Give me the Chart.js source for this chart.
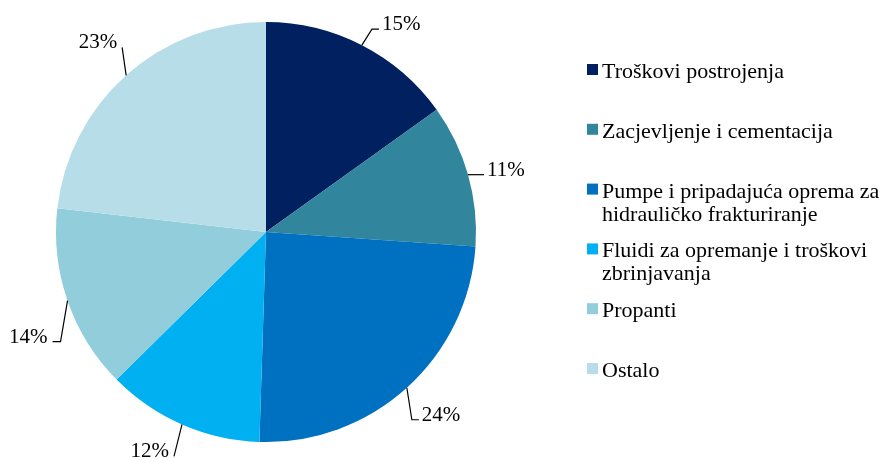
<!DOCTYPE html>
<html>
<head>
<meta charset="utf-8">
<script src="https://cdn.jsdelivr.net/npm/chart.js@4.4.1/dist/chart.umd.min.js"></script>
<style>
  html, body { margin: 0; padding: 0; background: #fff; }
  #wrap { width: 882px; height: 461px; }
</style>
</head>
<body>
<div id="wrap"><canvas id="pie" width="882" height="461"></canvas></div>
<script>
// kategorije (legenda, prelomljene u retke)
const categories = [
    'Troškovi postrojenja',
    'Zacjevljenje i cementacija',
    ['Pumpe i pripadajuća oprema za', 'hidrauličko frakturiranje'],
    ['Fluidi za opremanje i troškovi', 'zbrinjavanja'],
    'Propanti',
    'Ostalo'
];
// udjeli troškova (%)
const shares = [15.1, 11.0, 24.4, 12.1, 14.2, 23.2];
const colors = ['#002060', '#31859C', '#0070C0', '#00B0F0', '#92CDDC', '#B7DEE8'];

// pomaci oznaka: koljeno od ruba (dx, dy), duljina vodoravnog dijela
const labelLayout = [
    { dx: 10, dy: -16, h: 7 },
    { dx: 0, dy: 0, h: 16 },
    { dx: 5, dy: 32, h: 7 },
    { dx: -8, dy: 32, h: 0 },
    { dx: -7, dy: 41, h: -8 },
    { dx: -4, dy: -28, h: 0 }
];

const LABEL_FONT = '21px "Liberation Serif", "Times New Roman", serif';
const LEGEND_FONT = '22px "Liberation Serif", "Times New Roman", serif';

const outsideLabels = {
    id: 'outsideLabels',
    afterDatasetsDraw(chart) {
        const ctx = chart.ctx;
        const meta = chart.getDatasetMeta(0);
        const data = chart.data.datasets[0].data;
        const total = data.reduce((a, b) => a + b, 0);
        ctx.save();
        ctx.font = LABEL_FONT;
        ctx.fillStyle = '#000';
        ctx.strokeStyle = '#000';
        ctx.lineWidth = 1.2;
        meta.data.forEach((arc, i) => {
            const p = arc.getProps(['x', 'y', 'startAngle', 'endAngle', 'outerRadius'], true);
            const mid = (p.startAngle + p.endAngle) / 2;
            const ax = p.x + Math.cos(mid) * p.outerRadius;
            const ay = p.y + Math.sin(mid) * p.outerRadius;
            const lay = labelLayout[i];
            const ex = ax + lay.dx;
            const ey = ay + lay.dy;
            const right = Math.cos(mid) >= 0;
            const hx = ex + lay.h;
            ctx.beginPath();
            ctx.moveTo(ax, ay);
            ctx.lineTo(ex, ey);
            ctx.lineTo(hx, ey);
            ctx.stroke();
            const txt = Math.round(data[i] / total * 100) + '%';
            ctx.textBaseline = 'alphabetic';
            ctx.textAlign = right ? 'left' : 'right';
            ctx.fillText(txt, right ? hx + 3 : hx - 5, ey + 1);
        });
        ctx.restore();
    }
};

const sideLegend = {
    id: 'sideLegend',
    afterDraw(chart, args, opts) {
        const ctx = chart.ctx;
        const ds = chart.data.datasets[0];
        ctx.save();
        ctx.font = LEGEND_FONT;
        ctx.textAlign = 'left';
        ctx.textBaseline = 'alphabetic';
        chart.data.labels.forEach((label, i) => {
            const base = opts.y + i * opts.step;
            ctx.fillStyle = ds.backgroundColor[i];
            ctx.fillRect(opts.x, base - 14, opts.box, opts.box);
            ctx.fillStyle = '#000';
            const lines = Array.isArray(label) ? label : [label];
            lines.forEach((line, j) => {
                ctx.fillText(line, opts.x + opts.box + 4, base + j * opts.lineHeight);
            });
        });
        ctx.restore();
    }
};

new Chart(document.getElementById('pie'), {
    type: 'pie',
    data: {
        labels: categories,
        datasets: [{
            data: shares,
            backgroundColor: colors,
            borderWidth: 0
        }]
    },
    options: {
        responsive: false,
        animation: false,
        rotation: 0,
        layout: { padding: { left: 56, right: 406, top: 22, bottom: 19 } },
        plugins: {
            legend: { display: false },
            tooltip: { enabled: false },
            sideLegend: { x: 587, y: 78, step: 59.8, lineHeight: 23, box: 11 }
        }
    },
    plugins: [outsideLabels, sideLegend]
});
</script>
</body>
</html>
